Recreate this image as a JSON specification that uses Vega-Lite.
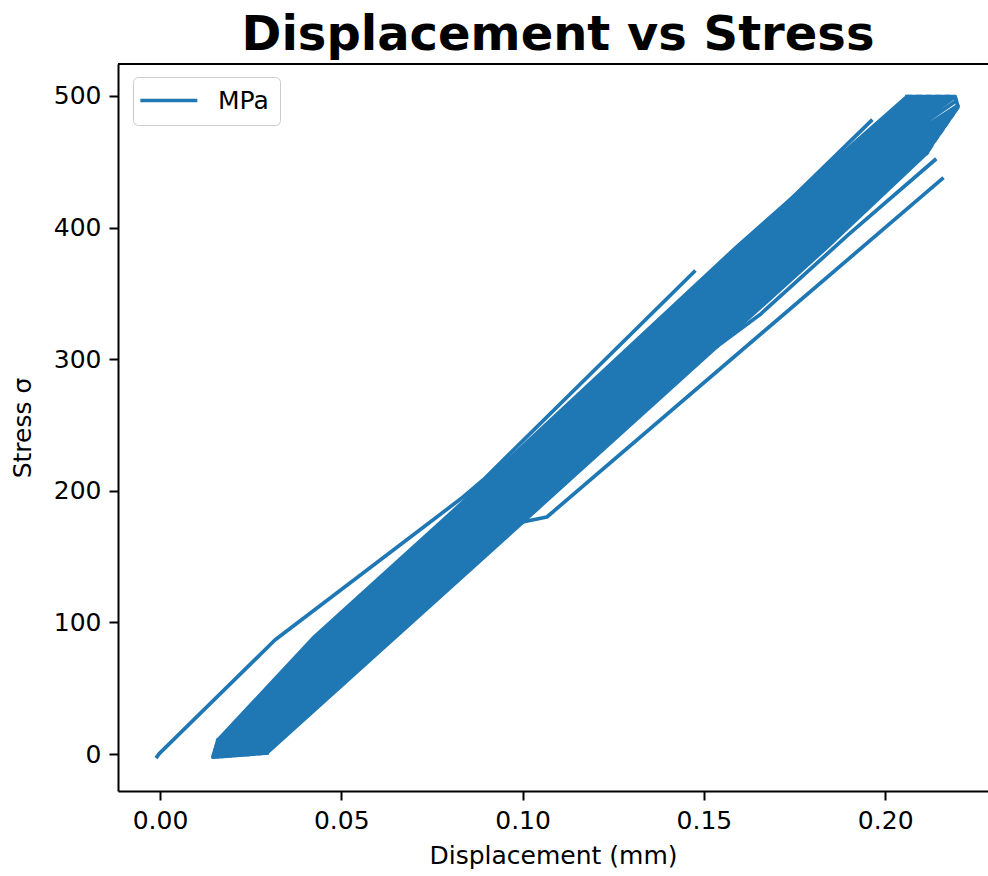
{
  "$schema": "https://vega.github.io/schema/vega-lite/v6.json",
  "width": 870,
  "height": 727,
  "autosize": {"type": "none"},
  "padding": {"left": 118, "top": 64, "right": 0, "bottom": 85},
  "background": "white",
  "title": {"text": "Displacement vs Stress", "font": "DejaVu Sans", "fontSize": 48, "fontWeight": "bold", "color": "black", "anchor": "middle", "offset": 3, "dx": 5},
  "config": {
    "view": {"stroke": null},
    "axis": {"grid": false, "domainColor": "black", "domainWidth": 2, "tickColor": "black", "tickWidth": 2, "tickSize": 9, "labelColor": "black", "labelFont": "DejaVu Sans", "labelFontSize": 25, "labelPadding": 8, "labelFlush": false, "labelOverlap": false, "titleFont": "DejaVu Sans", "titleFontSize": 25, "titleFontWeight": "normal", "titleColor": "black"},
    "axisX": {"titlePadding": 10},
    "axisY": {"titlePadding": 18}
  },
  "data": {"values": [
    {"x": -0.0008, "y": -2.0, "g": 1}, {"x": -0.0002, "y": 0.3, "g": 1}, {"x": 0.0317, "y": 86.6, "g": 1}, {"x": 0.0836, "y": 195.3, "g": 1}, {"x": 0.0891, "y": 208.2, "g": 1}, {"x": 0.1473, "y": 366.4, "g": 1},
    {"x": 0.0985, "y": 175.5, "g": 2}, {"x": 0.1067, "y": 180.1, "g": 2}, {"x": 0.2157, "y": 437.0, "g": 2},
    {"x": 0.1400, "y": 282.0, "g": 3}, {"x": 0.1655, "y": 333.9, "g": 3}, {"x": 0.1900, "y": 395.0, "g": 3}, {"x": 0.2137, "y": 451.4, "g": 3},
    {"x": 0.1718, "y": 415.7, "g": 4}, {"x": 0.1961, "y": 481.0, "g": 4},
    {"x": 0.2060, "y": 499.5, "g": 5}, {"x": 0.2193, "y": 499.5, "g": 5}, {"x": 0.2201, "y": 491.6, "g": 5}, {"x": 0.2132, "y": 464.3, "g": 5}, {"x": 0.2115, "y": 456.7, "g": 5},
    {"x": 0.0160, "y": 10.6, "g": 6}, {"x": 0.0146, "y": -2.3, "g": 6}, {"x": 0.0295, "y": 0.8, "g": 6},
    {"x": 0.0160, "y": 10.6, "g": 0}, {"x": 0.0422, "y": 88, "g": 0}, {"x": 0.0830, "y": 190, "g": 0}, {"x": 0.1589, "y": 385, "g": 0}, {"x": 0.1884, "y": 456.7, "g": 0}, {"x": 0.2060, "y": 499.5, "g": 0},
    {"x": 0.2073, "y": 499.5, "g": 0}, {"x": 0.1894, "y": 456.7, "g": 0}, {"x": 0.1599, "y": 385, "g": 0}, {"x": 0.0839, "y": 190, "g": 0}, {"x": 0.0431, "y": 88, "g": 0}, {"x": 0.0158, "y": 8.4, "g": 0},
    {"x": 0.0155, "y": 6.2, "g": 0}, {"x": 0.0441, "y": 88, "g": 0}, {"x": 0.0849, "y": 190, "g": 0}, {"x": 0.1610, "y": 385, "g": 0}, {"x": 0.1903, "y": 456.7, "g": 0}, {"x": 0.2086, "y": 499.5, "g": 0},
    {"x": 0.2100, "y": 499.5, "g": 0}, {"x": 0.1913, "y": 456.7, "g": 0}, {"x": 0.1620, "y": 385, "g": 0}, {"x": 0.0858, "y": 190, "g": 0}, {"x": 0.0450, "y": 88, "g": 0}, {"x": 0.0153, "y": 4.1, "g": 0},
    {"x": 0.0151, "y": 1.9, "g": 0}, {"x": 0.0459, "y": 88, "g": 0}, {"x": 0.0868, "y": 190, "g": 0}, {"x": 0.1631, "y": 385, "g": 0}, {"x": 0.1922, "y": 456.7, "g": 0}, {"x": 0.2113, "y": 499.5, "g": 0},
    {"x": 0.2126, "y": 499.5, "g": 0}, {"x": 0.1932, "y": 456.7, "g": 0}, {"x": 0.1641, "y": 385, "g": 0}, {"x": 0.0877, "y": 190, "g": 0}, {"x": 0.0469, "y": 88, "g": 0}, {"x": 0.0148, "y": -0.3, "g": 0},
    {"x": 0.0147, "y": -2.3, "g": 0}, {"x": 0.0478, "y": 88, "g": 0}, {"x": 0.0887, "y": 190, "g": 0}, {"x": 0.1652, "y": 385, "g": 0}, {"x": 0.1942, "y": 456.7, "g": 0}, {"x": 0.2139, "y": 499.5, "g": 0},
    {"x": 0.2152, "y": 499.5, "g": 0}, {"x": 0.1951, "y": 456.7, "g": 0}, {"x": 0.1662, "y": 385, "g": 0}, {"x": 0.0896, "y": 190, "g": 0}, {"x": 0.0487, "y": 88, "g": 0}, {"x": 0.0155, "y": -2.1, "g": 0},
    {"x": 0.0163, "y": -1.9, "g": 0}, {"x": 0.0497, "y": 88, "g": 0}, {"x": 0.0905, "y": 190, "g": 0}, {"x": 0.1672, "y": 385, "g": 0}, {"x": 0.1961, "y": 456.7, "g": 0}, {"x": 0.2165, "y": 499.5, "g": 0},
    {"x": 0.2178, "y": 499.5, "g": 0}, {"x": 0.1971, "y": 456.7, "g": 0}, {"x": 0.1683, "y": 385, "g": 0}, {"x": 0.0915, "y": 190, "g": 0}, {"x": 0.0506, "y": 88, "g": 0}, {"x": 0.0171, "y": -1.8, "g": 0},
    {"x": 0.0180, "y": -1.6, "g": 0}, {"x": 0.0515, "y": 88, "g": 0}, {"x": 0.0924, "y": 190, "g": 0}, {"x": 0.1693, "y": 385, "g": 0}, {"x": 0.1980, "y": 456.7, "g": 0}, {"x": 0.2192, "y": 499.5, "g": 0},
    {"x": 0.2196, "y": 496.3, "g": 0}, {"x": 0.1990, "y": 456.7, "g": 0}, {"x": 0.1704, "y": 385, "g": 0}, {"x": 0.0934, "y": 190, "g": 0}, {"x": 0.0525, "y": 88, "g": 0}, {"x": 0.0188, "y": -1.4, "g": 0},
    {"x": 0.0196, "y": -1.3, "g": 0}, {"x": 0.0534, "y": 88, "g": 0}, {"x": 0.0943, "y": 190, "g": 0}, {"x": 0.1714, "y": 385, "g": 0}, {"x": 0.1999, "y": 456.7, "g": 0}, {"x": 0.2200, "y": 492.7, "g": 0},
    {"x": 0.2196, "y": 489.6, "g": 0}, {"x": 0.2009, "y": 456.7, "g": 0}, {"x": 0.1724, "y": 385, "g": 0}, {"x": 0.0952, "y": 190, "g": 0}, {"x": 0.0543, "y": 88, "g": 0}, {"x": 0.0204, "y": -1.1, "g": 0},
    {"x": 0.0213, "y": -0.9, "g": 0}, {"x": 0.0553, "y": 88, "g": 0}, {"x": 0.0962, "y": 190, "g": 0}, {"x": 0.1735, "y": 385, "g": 0}, {"x": 0.2019, "y": 456.7, "g": 0}, {"x": 0.2188, "y": 486.6, "g": 0},
    {"x": 0.2181, "y": 483.7, "g": 0}, {"x": 0.2028, "y": 456.7, "g": 0}, {"x": 0.1745, "y": 385, "g": 0}, {"x": 0.0971, "y": 190, "g": 0}, {"x": 0.0562, "y": 88, "g": 0}, {"x": 0.0221, "y": -0.7, "g": 0},
    {"x": 0.0229, "y": -0.6, "g": 0}, {"x": 0.0571, "y": 88, "g": 0}, {"x": 0.0981, "y": 190, "g": 0}, {"x": 0.1756, "y": 385, "g": 0}, {"x": 0.2038, "y": 456.7, "g": 0}, {"x": 0.2173, "y": 480.7, "g": 0},
    {"x": 0.2166, "y": 477.7, "g": 0}, {"x": 0.2048, "y": 456.7, "g": 0}, {"x": 0.1766, "y": 385, "g": 0}, {"x": 0.0990, "y": 190, "g": 0}, {"x": 0.0581, "y": 88, "g": 0}, {"x": 0.0237, "y": -0.4, "g": 0},
    {"x": 0.0246, "y": -0.2, "g": 0}, {"x": 0.0590, "y": 88, "g": 0}, {"x": 0.1000, "y": 190, "g": 0}, {"x": 0.1777, "y": 385, "g": 0}, {"x": 0.2057, "y": 456.7, "g": 0}, {"x": 0.2159, "y": 474.8, "g": 0},
    {"x": 0.2151, "y": 471.8, "g": 0}, {"x": 0.2067, "y": 456.7, "g": 0}, {"x": 0.1787, "y": 385, "g": 0}, {"x": 0.1009, "y": 190, "g": 0}, {"x": 0.0599, "y": 88, "g": 0}, {"x": 0.0254, "y": 0.0, "g": 0},
    {"x": 0.0262, "y": 0.1, "g": 0}, {"x": 0.0609, "y": 88, "g": 0}, {"x": 0.1018, "y": 190, "g": 0}, {"x": 0.1797, "y": 385, "g": 0}, {"x": 0.2076, "y": 456.7, "g": 0}, {"x": 0.2144, "y": 468.9, "g": 0},
    {"x": 0.2136, "y": 465.9, "g": 0}, {"x": 0.2086, "y": 456.7, "g": 0}, {"x": 0.1808, "y": 385, "g": 0}, {"x": 0.1028, "y": 190, "g": 0}, {"x": 0.0618, "y": 88, "g": 0}, {"x": 0.0270, "y": 0.3, "g": 0},
    {"x": 0.0279, "y": 0.5, "g": 0}, {"x": 0.0627, "y": 88, "g": 0}, {"x": 0.1037, "y": 190, "g": 0}, {"x": 0.1818, "y": 385, "g": 0}, {"x": 0.2096, "y": 456.7, "g": 0}, {"x": 0.2129, "y": 462.9, "g": 0},
    {"x": 0.2122, "y": 459.8, "g": 0}, {"x": 0.2105, "y": 456.7, "g": 0}, {"x": 0.1829, "y": 385, "g": 0}, {"x": 0.1047, "y": 190, "g": 0}, {"x": 0.0637, "y": 88, "g": 0}, {"x": 0.0287, "y": 0.6, "g": 0},
    {"x": 0.0295, "y": 0.8, "g": 0}, {"x": 0.0646, "y": 88, "g": 0}, {"x": 0.1056, "y": 190, "g": 0}, {"x": 0.1839, "y": 385, "g": 0}, {"x": 0.2115, "y": 456.7, "g": 0}
  ]},
  "layer": [
    {
      "mark": {"type": "line", "strokeWidth": 3.7, "strokeJoin": "round", "strokeCap": "square", "clip": true},
      "encoding": {
        "x": {"field": "x", "type": "quantitative", "scale": {"domain": [-0.01158, 0.22835], "nice": false, "zero": false}, "axis": {"values": [0, 0.05, 0.1, 0.15, 0.2], "format": ".2f", "title": "Displacement (mm)"}},
        "y": {"field": "y", "type": "quantitative", "scale": {"domain": [-28.1, 524.3], "nice": false, "zero": false}, "axis": {"values": [0, 100, 200, 300, 400, 500], "format": "d", "title": "Stress σ"}},
        "detail": {"field": "g", "type": "nominal"},
        "order": {"value": null},
        "color": {"datum": "MPa", "type": "nominal", "scale": {"range": ["#1f77b4"]}, "legend": {"orient": "none", "legendX": 15, "legendY": 13, "title": null, "symbolType": "M-1.7,0H4.3", "symbolSize": 361, "symbolStrokeWidth": 3.7, "labelFont": "DejaVu Sans", "labelFontSize": 25, "labelColor": "black", "labelOffset": 49, "padding": 11, "strokeColor": "#cccccc", "fillColor": "white", "cornerRadius": 5}}
      }
    },
    {
      "mark": {"type": "rule", "color": "black", "strokeWidth": 2},
      "encoding": {"y": {"datum": 524.3, "type": "quantitative"}}
    }
  ]
}
